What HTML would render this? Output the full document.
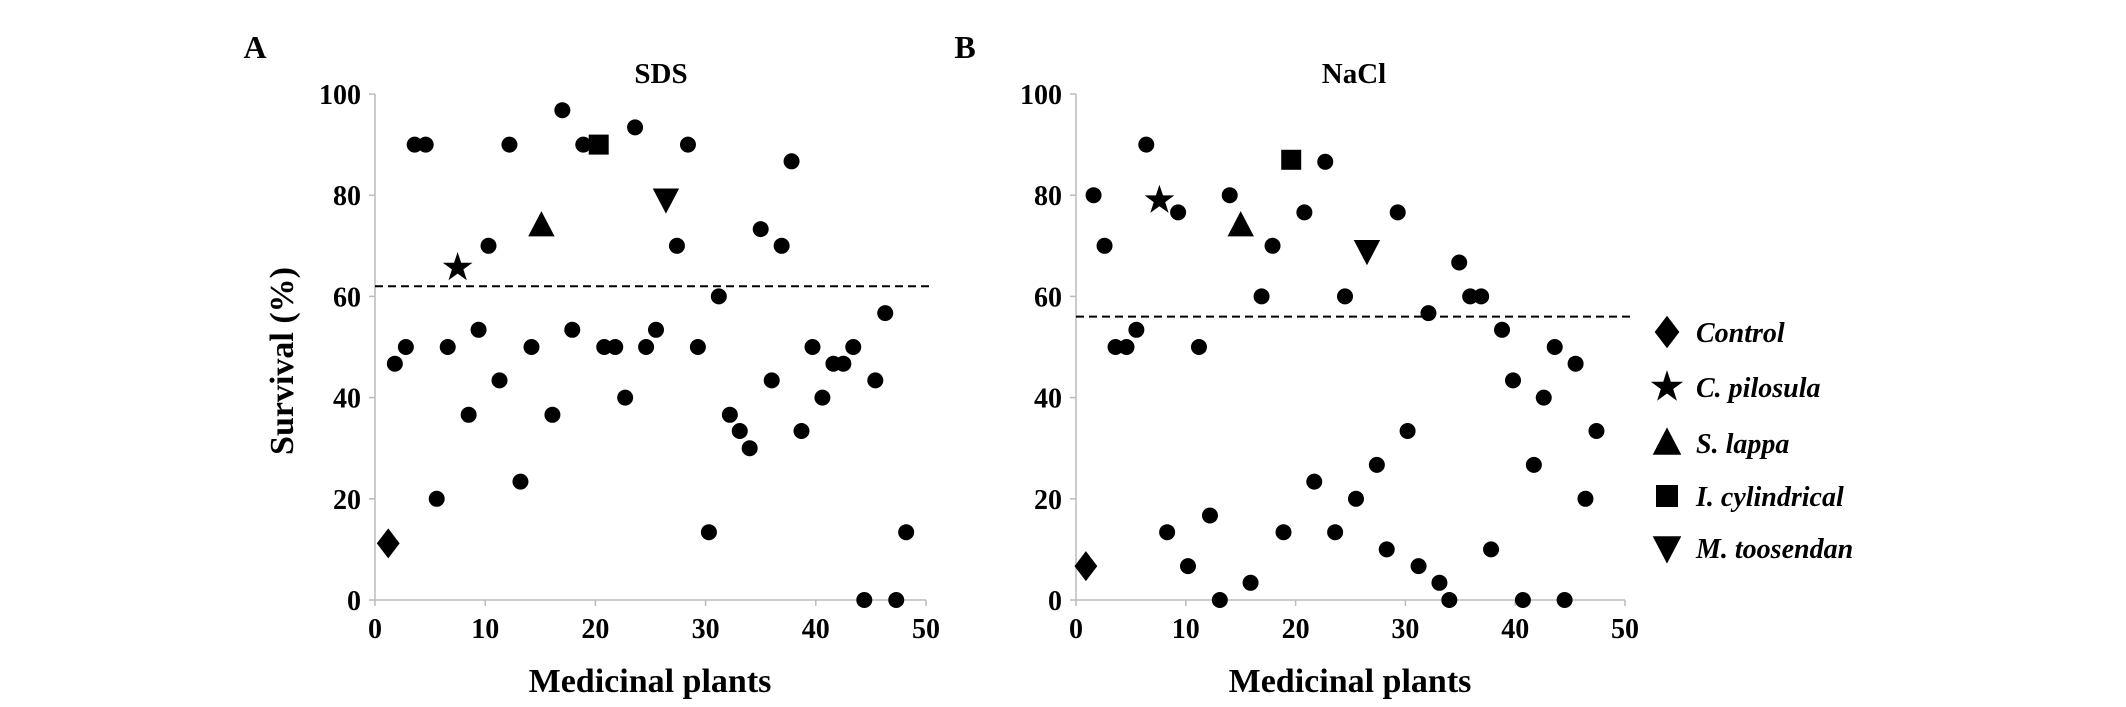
<!DOCTYPE html>
<html><head><meta charset="utf-8">
<style>
html,body{margin:0;padding:0;background:#fff;}
svg{display:block;font-family:"Liberation Serif",serif;font-weight:bold;}
</style></head>
<body>
<svg id="chart" width="2126" height="707" viewBox="0 0 2126 707">
  <text x="255" y="58" font-size="32" text-anchor="middle">A</text>
  <text x="965" y="58" font-size="32" text-anchor="middle">B</text>
  <text x="661" y="83" font-size="29" text-anchor="middle">SDS</text>
  <text x="1354" y="83" font-size="29" text-anchor="middle">NaCl</text>
  <text transform="translate(293,361) rotate(-90)" font-size="34" text-anchor="middle">Survival (%)</text>
  <text x="650" y="692" font-size="34" text-anchor="middle">Medicinal plants</text>
  <text x="1350" y="692" font-size="34" text-anchor="middle">Medicinal plants</text>
  <g id="legend"></g>
</svg>
<script>
const sdsX = [1.8,2.8,3.6,4.6,5.6,6.6,8.5,9.4,10.3,11.3,12.2,13.2,14.2,16.1,17,17.9,18.9,20.8,21.8,22.7,23.6,24.6,25.5,27.4,28.4,29.3,30.3,31.2,32.2,33.1,34,35,36,36.9,37.8,38.7,39.7,40.6,41.6,42.5,43.4,44.4,45.4,46.3,47.3,48.2];
const sdsY = [46.7,50,90,90,20,50,36.6,53.4,70,43.4,90,23.4,50,36.6,96.8,53.4,90,50,50,40,93.4,50,53.4,70,90,50,13.4,60,36.6,33.4,30,73.3,43.4,70,86.7,33.4,50,40,46.7,46.7,50,0,43.4,56.7,0,13.4];
const naclX = [1.6,2.6,3.6,4.6,5.5,6.4,8.3,9.3,10.2,11.2,12.2,13.1,14,15.9,16.9,17.9,18.9,20.8,21.7,22.7,23.6,24.5,25.5,27.4,28.3,29.3,30.2,31.2,32.1,33.1,34,34.9,35.9,36.9,37.8,38.8,39.8,40.7,41.7,42.6,43.6,44.5,45.5,46.4,47.4];
const naclY = [80,70,50,50,53.4,90,13.4,76.6,6.7,50,16.7,0,80,3.4,60,70,13.4,76.6,23.4,86.6,13.4,60,20,26.7,10,76.6,33.4,6.7,56.7,3.4,0,66.7,60,60,10,53.4,43.4,0,26.7,40,50,0,46.7,20,33.4];
const specialNames = ["Control","C. pilosula","S. lappa","I. cylindrical","M. toosendan"];
const specialShapes = ["diamond","star","triangle","square","down"];
const sdsSpecialX = [1.2,7.5,15.1,20.3,26.4];
const sdsSpecialY = [11.2,65.7,74,90,79.2];
const naclSpecialX = [0.9,7.6,15,19.6,26.5];
const naclSpecialY = [6.7,79,74,87,69];
const sdsThreshold = 62;
const naclThreshold = 56;
const xTicks = [0,10,20,30,40,50];
const yTicks = [0,20,40,60,80,100];

const NS="http://www.w3.org/2000/svg";
const svg=document.getElementById('chart');
function mk(tag,attrs,parent){const e=document.createElementNS(NS,tag);for(const k in attrs)e.setAttribute(k,attrs[k]);(parent||svg).appendChild(e);return e;}
function shape(kind,cx,cy,s,parent){
  let e;
  if(kind==="diamond") e=mk('polygon',{points:`${cx},${cy-s*1.25} ${cx+s*0.95},${cy} ${cx},${cy+s*1.25} ${cx-s*0.95},${cy}`},parent);
  else if(kind==="square") e=mk('rect',{x:cx-s,y:cy-s,width:2*s,height:2*s},parent);
  else if(kind==="triangle") e=mk('polygon',{points:`${cx},${cy-s*1.2} ${cx+s*1.1},${cy+s*0.9} ${cx-s*1.1},${cy+s*0.9}`},parent);
  else if(kind==="down") e=mk('polygon',{points:`${cx},${cy+s*1.2} ${cx+s*1.1},${cy-s*0.9} ${cx-s*1.1},${cy-s*0.9}`},parent);
  else { let p=[];for(let i=0;i<10;i++){const r=i%2?s*0.5:s*1.3;const a=-Math.PI/2+i*Math.PI/5;p.push((cx+r*Math.cos(a)).toFixed(1)+','+(cy+r*Math.sin(a)).toFixed(1));} e=mk('polygon',{points:p.join(' ')},parent);}
  e.setAttribute('fill','#000');
  return e;
}
function panel(id,x0,x1,xs,ys,spx,spy,thr,lineEnd){
  const y0=600,y1=94;
  const sx=v=>x0+(x1-x0)*v/50, sy=v=>y0+(y1-y0)*v/100;
  const g=mk('g',{});
  
  
  const ya=mk('line',{x1:x0,y1:sy(0),x2:x0,y2:sy(100),stroke:'#bbb','stroke-width':1.5},g);
  
  
  const xa=mk('line',{x1:x0,y1:sy(0),x2:x1,y2:sy(0),stroke:'#bbb','stroke-width':1.5},g);
  
  
  yTicks.forEach(t=>{
    mk('line',{x1:x0-6,y1:sy(t),x2:x0,y2:sy(t),stroke:'#bbb','stroke-width':1.5},g);
    const tx=mk('text',{x:x0-14,y:sy(t)+10,'font-size':28,'text-anchor':'end'},g);
    tx.textContent=t;
    
    
  });
  xTicks.forEach(t=>{
    mk('line',{x1:sx(t),y1:sy(0),x2:sx(t),y2:sy(0)+6,stroke:'#bbb','stroke-width':1.5},g);
    const tx=mk('text',{x:sx(t),y:638,'font-size':28,'text-anchor':'middle'},g);
    tx.textContent=t;
    
    
  });
  const dl=mk('line',{x1:x0,y1:sy(thr),x2:lineEnd,y2:sy(thr),stroke:'#000','stroke-width':2,'stroke-dasharray':'8,5'},g);
  
  
  xs.forEach((v,i)=>{
    const c=mk('circle',{cx:sx(v),cy:sy(ys[i]),r:8,fill:'#000'},g);
    
    
  });
  spx.forEach((v,i)=>{
    const e=shape(specialShapes[i],sx(v),sy(spy[i]),i===3?10:12,g);
    
    
  });
}
panel('sds',375,926,sdsX,sdsY,sdsSpecialX,sdsSpecialY,sdsThreshold,930);
panel('nacl',1076,1625,naclX,naclY,naclSpecialX,naclSpecialY,naclThreshold,1631);
const lg=document.getElementById('legend');
const ly=[332,387,443,496,548];
specialNames.forEach((n,i)=>{
  const m=shape(specialShapes[i],1667,ly[i],i===3?11:13,lg);
  
  
  const t=mk('text',{x:1696,y:ly[i]+10,'font-size':28,'font-style':'italic'},lg);
  t.textContent=n;
  
  
});
</script>
</body></html>
